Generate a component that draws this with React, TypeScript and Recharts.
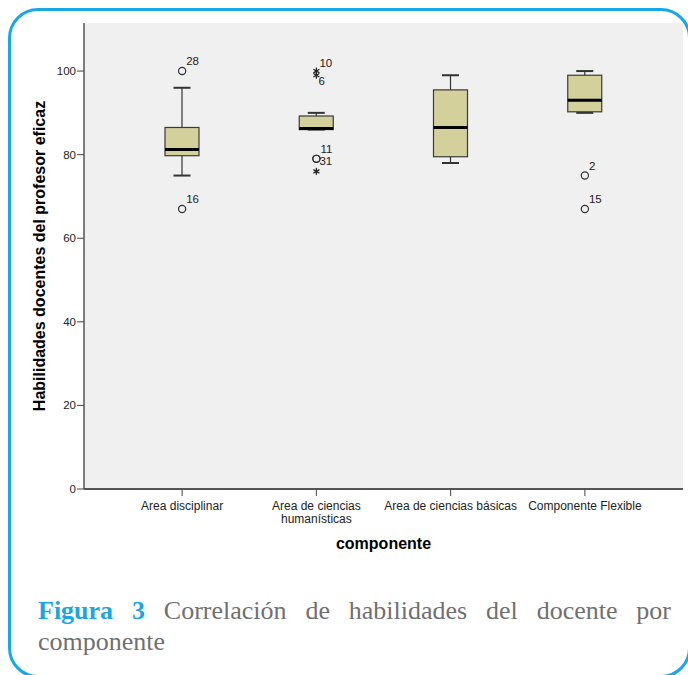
import React from 'react';
import {
  ComposedChart,
  Bar,
  Scatter,
  XAxis,
  YAxis,
  CartesianGrid
} from 'recharts';

const components = [
  'Area disciplinar',
  'Area de ciencias humanísticas',
  'Area de ciencias básicas',
  'Componente Flexible',
];
const whiskerLow = [75, 86, 78, 90];
const q1 = [79.75, 86, 79.5, 90.25];
const median = [81.25, 86.25, 86.5, 93];
const q3 = [86.5, 89.25, 95.5, 99];
const whiskerHigh = [96, 90, 99, 100];

// outliers: which component, value, case number, 'o' atypical / '*' extreme
const outlierComp = [0, 0, 1, 1, 1, 1, 1, 3, 3];
const outlierValue = [100, 67, 100, 99, 79, 79, 76, 75, 67];
const outlierCase = ['28', '16', '10', '6', '11', '31', '', '2', '15'];
const outlierKind = ['o', 'o', '*', '*', 'o', 'o', '*', 'o', 'o'];

const yTicks = [0, 20, 40, 60, 80, 100];

const FONT = '"Liberation Sans", Arial, sans-serif';
const MAX_OUT = 5;

const rows = components.map((name, i) => {
  const row: any = {
    name,
    low: whiskerLow[i],
    q1: q1[i],
    med: median[i],
    q3: q3[i],
    high: whiskerHigh[i],
  };
  const mine = outlierComp.map((c, j) => (c === i ? j : -1)).filter((j) => j >= 0);
  mine.forEach((j, k) => {
    row['o' + k] = outlierValue[j];
    row['c' + k] = outlierCase[j];
    row['k' + k] = outlierKind[j];
  });
  return row;
});

// where the case number sits relative to its point
const labelShift: Record<string, [number, number]> = {
  '10': [3, -4],
  '6': [2, 10],
  '31': [3, 6],
};

const BoxShape = (props: any) => {
  const { x, y, width, height, payload } = props;
  if (payload == null || !isFinite(y)) return <g />;
  const span = payload.high - payload.low || 1;
  const toPx = (v: number) => y + ((payload.high - v) * height) / span;
  const cx = x + width / 2;
  const cap = 8.5;
  return (
    <g>
      <line x1={cx} x2={cx} y1={toPx(payload.high)} y2={toPx(payload.low)} stroke="#333" strokeWidth={1.2} />
      <line x1={cx - cap} x2={cx + cap} y1={toPx(payload.high)} y2={toPx(payload.high)} stroke="#333" strokeWidth={2} />
      <line x1={cx - cap} x2={cx + cap} y1={toPx(payload.low)} y2={toPx(payload.low)} stroke="#333" strokeWidth={2} />
      <rect
        x={x}
        y={toPx(payload.q3)}
        width={width}
        height={toPx(payload.q1) - toPx(payload.q3)}
        fill="#d4d09b"
        stroke="#3a3a3a"
        strokeWidth={1.2}
      />
      <line x1={x} x2={x + width} y1={toPx(payload.med)} y2={toPx(payload.med)} stroke="#000" strokeWidth={3} />
    </g>
  );
};

const makeOutlier = (k: number) => (props: any) => {
  const { cx, cy, payload } = props;
  if (payload == null || payload['o' + k] == null || !isFinite(cy)) return <g />;
  const id = payload['c' + k];
  const kind = payload['k' + k];
  const [dx, dy] = labelShift[id] || [4, -6];
  const r = 3.6;
  return (
    <g>
      {kind === 'o' ? (
        <circle cx={cx} cy={cy} r={r} fill="none" stroke="#333" strokeWidth={1.2} />
      ) : (
        <g stroke="#222" strokeWidth={1.3}>
          <line x1={cx} x2={cx} y1={cy - 3.5} y2={cy + 3.5} />
          <line x1={cx - 3} x2={cx + 3} y1={cy - 1.8} y2={cy + 1.8} />
          <line x1={cx - 3} x2={cx + 3} y1={cy + 1.8} y2={cy - 1.8} />
        </g>
      )}
      {id ? (
        <text x={cx + dx} y={cy + dy} fontSize={11.5} fontFamily={FONT} fill="#222">
          {id}
        </text>
      ) : null}
    </g>
  );
};

// long category names go on two lines, breaking at the last space before 17 chars
const wrapLabel = (s: string): string[] => {
  if (s.length <= 26) return [s];
  const cut = s.lastIndexOf(' ', 17);
  return cut > 0 ? [s.slice(0, cut), s.slice(cut + 1)] : [s];
};

const XTick = (props: any) => {
  const { x, y, payload } = props;
  const lines = wrapLabel(String(payload.value));
  return (
    <text x={x} y={y + 12} textAnchor="middle" fontSize={12} fontFamily={FONT} fill="#222">
      {lines.map((l, i) => (
        <tspan key={i} x={x} dy={i === 0 ? 0 : 12.5}>
          {l}
        </tspan>
      ))}
    </text>
  );
};

const yTitle = (props: any) => {
  const vb = props.viewBox || {};
  const cx = vb.x + 9;
  const cy = vb.y + vb.height / 2;
  return (
    <text
      x={cx}
      y={cy}
      transform={`rotate(-90 ${cx} ${cy})`}
      textAnchor="middle"
      dominantBaseline="central"
      fontSize={16}
      fontWeight="bold"
      fontFamily={FONT}
      fill="#000"
    >
      Habilidades docentes del profesor eficaz
    </text>
  );
};

const xTitle = (props: any) => {
  const vb = props.viewBox || {};
  return (
    <text
      x={vb.x + vb.width / 2}
      y={vb.y + 60}
      textAnchor="middle"
      fontSize={16}
      fontWeight="bold"
      fontFamily={FONT}
      fill="#000"
    >
      componente
    </text>
  );
};

export default function App() {
  return (
    <div style={{ position: 'absolute', left: 0, top: 0, width: 688, height: 675, background: '#fff', overflow: 'hidden' }}>
      <div
        style={{
          position: 'absolute',
          left: 8,
          top: 8,
          width: 683,
          height: 670,
          border: '3px solid #19a8e6',
          borderRadius: 30,
          boxSizing: 'border-box',
        }}
      />
      <div style={{ position: 'absolute', left: 0, top: 0 }}>
        <ComposedChart
          width={688}
          height={560}
          data={rows}
          margin={{ top: 23, right: 5, left: 30, bottom: 0 }}
        >
          <CartesianGrid fill="#f0f0f0" horizontal={false} vertical={false} />
          <XAxis
            dataKey="name"
            type="category"
            height={71}
            padding={{ left: 31, right: 31 }}
            tick={<XTick />}
            tickSize={7}
            tickLine={{ stroke: '#444' }}
            axisLine={{ stroke: '#555', strokeWidth: 2 }}
            interval={0}
            label={xTitle}
          />
          <XAxis
            xAxisId="top"
            orientation="top"
            dataKey="name"
            height={0}
            tick={false}
            tickLine={false}
            axisLine={{ stroke: '#555', strokeWidth: 1.5 }}
          />
          <YAxis
            type="number"
            domain={[0, 111.5]}
            ticks={yTicks}
            width={54}
            tickSize={7}
            tickMargin={1}
            tick={{ fontSize: 11.5, fill: '#222', fontFamily: FONT }}
            tickLine={{ stroke: '#444' }}
            axisLine={{ stroke: '#555', strokeWidth: 1.5 }}
            label={yTitle}
          />
          <YAxis
            yAxisId="right"
            orientation="right"
            type="number"
            domain={[0, 111.5]}
            width={0}
            tick={false}
            tickLine={false}
            axisLine={{ stroke: '#666', strokeWidth: 2 }}
          />
          <Bar
            dataKey={(d: any) => [d.low, d.high]}
            barSize={34}
            isAnimationActive={false}
            shape={BoxShape}
          />
          {Array.from({ length: MAX_OUT }, (_, k) => (
            <Scatter
              key={k}
              dataKey={'o' + k}
              isAnimationActive={false}
              shape={makeOutlier(k)}
            />
          ))}
        </ComposedChart>
      </div>
      <div
        style={{
          position: 'absolute',
          left: 38,
          top: 595,
          width: 633,
          fontFamily: '"Liberation Serif", "Times New Roman", serif',
          fontSize: 26,
          lineHeight: '31px',
          textAlign: 'justify',
          color: '#707070',
        }}
      >
        <span style={{ color: '#1aa6e0', fontWeight: 'bold' }}>Figura 3</span> Correlación de habilidades del docente por
        componente
      </div>
    </div>
  );
}
